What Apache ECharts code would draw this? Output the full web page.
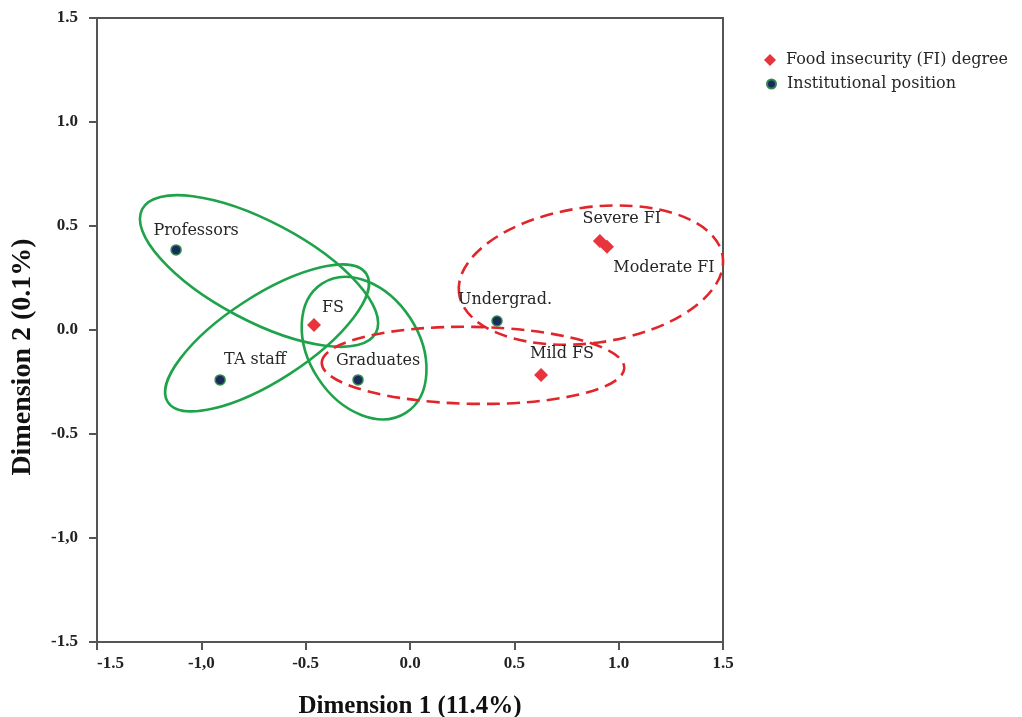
<!DOCTYPE html>
<html>
<head>
<meta charset="utf-8">
<script src="https://cdn.jsdelivr.net/npm/echarts@6/dist/echarts.min.js"></script>
<style>
html,body{margin:0;padding:0;background:#fff;}
#chart{width:1022px;height:717px;}
</style>
</head>
<body>
<div id="chart"></div>
<script>
// ---- data ----
const tickValues = [-1.5, -1.0, -0.5, 0.0, 0.5, 1.0, 1.5];
const xTickLabels = ['-1.5', '-1,0', '-0.5', '0.0', '0.5', '1.0', '1.5'];
const yTickLabels = ['-1.5', '-1,0', '-0.5', '0.0', '0.5', '1.0', '1.5'];

const fiNames = ['FS', 'Mild FS', 'Moderate FI', 'Severe FI'];
const fiX = [-0.46, 0.628, 0.944, 0.91];
const fiY = [0.024, -0.216, 0.40, 0.428];

const posNames = ['Professors', 'TA staff', 'Graduates', 'Undergrad.'];
const posX = [-1.121, -0.91, -0.249, 0.417];
const posY = [0.385, -0.24, -0.24, 0.043];

// ellipses: center x, center y, semi-major, semi-minor, angle (deg, data space)
const greenCx = [-0.7235, -0.685, -0.220];
const greenCy = [0.2837, -0.038, -0.087];
const greenA = [0.634, 0.567, 0.370];
const greenB = [0.238, 0.204, 0.264];
const greenAng = [-28, 33, -57];

const redCx = [0.867, 0.302];
const redCy = [0.264, -0.170];
const redA = [0.638, 0.725];
const redB = [0.326, 0.185];
const redAng = [8, -1];

// ---- styles ----
const labelOffsets = {
  'Professors': [20, -19], 'TA staff': [35, -20], 'Graduates': [20, -19], 'Undergrad.': [8, -21],
  'FS': [19, -17], 'Mild FS': [21, -21], 'Severe FI': [22, -22], 'Moderate FI': [57, 21]
};
const labelFont = 'DejaVu Serif';
const axisFont = 'Liberation Serif';

function pts(names, xs, ys) {
  return names.map((n, i) => ({
    name: n, value: [xs[i], ys[i]],
    label: { offset: labelOffsets[n] }
  }));
}
function ell(cx, cy, a, b, ang) {
  return cx.map((v, i) => [v, cy[i], a[i], b[i], ang[i]]);
}
function makeRender(stroke, dash) {
  return function (params, api) {
    const cx = api.value(0), cy = api.value(1), a = api.value(2), b = api.value(3);
    const t = api.value(4) * Math.PI / 180;
    const c = api.coord([cx, cy]);
    const pa = api.coord([cx + a * Math.cos(t), cy + a * Math.sin(t)]);
    const pb = api.coord([cx - b * Math.sin(t), cy + b * Math.cos(t)]);
    const rx = Math.hypot(pa[0] - c[0], pa[1] - c[1]);
    const ry = Math.hypot(pb[0] - c[0], pb[1] - c[1]);
    const rot = -Math.atan2(pa[1] - c[1], pa[0] - c[0]);
    return {
      type: 'ellipse', x: c[0], y: c[1], rotation: rot,
      shape: { cx: 0, cy: 0, rx: rx, ry: ry },
      style: { fill: null, stroke: stroke, lineWidth: 2.6, lineDash: dash }
    };
  };
}
function tickFmt(labels) {
  return v => labels[tickValues.findIndex(t => Math.abs(t - v) < 1e-6)];
}

const chart = echarts.init(document.getElementById('chart'), null, { renderer: 'canvas' });
const axisCommon = {
  type: 'value', min: -1.5, max: 1.5, interval: 0.5,
  axisLine: { show: true, onZero: false, lineStyle: { color: '#555', width: 2 } },
  axisTick: { show: true, length: 8, lineStyle: { color: '#555', width: 2 } },
  splitLine: { show: false }
};
const labelStyle = { show: true, position: 'inside', formatter: '{b}', fontFamily: labelFont, fontSize: 16, color: '#262626' };
chart.setOption({
  animation: false,
  backgroundColor: '#fff',
  grid: { left: 97, top: 18, right: 299, bottom: 75, containLabel: false, outerBoundsMode: 'none', show: true, borderColor: '#555', borderWidth: 2, backgroundColor: 'transparent' },
  legend: [
    {
      orient: 'vertical', left: 759, top: 47, itemWidth: 12, itemHeight: 12,
      textStyle: { fontFamily: labelFont, fontSize: 16, color: '#262626', padding: [0, 0, 0, 5] },
      data: [{ name: 'Food insecurity (FI) degree', icon: 'diamond' }]
    },
    {
      orient: 'vertical', left: 761, top: 71, itemWidth: 9, itemHeight: 9,
      textStyle: { fontFamily: labelFont, fontSize: 16, color: '#262626', padding: [0, 0, 0, 6] },
      data: [{ name: 'Institutional position', icon: 'circle' }]
    }
  ],
  xAxis: Object.assign({}, axisCommon, {
    name: 'Dimension 1 (11.4%)', nameLocation: 'middle', nameGap: 52,
    nameTextStyle: { fontFamily: axisFont, fontWeight: 'bold', fontSize: 25, color: '#111' },
    axisLabel: {
      margin: 13, fontFamily: axisFont, fontWeight: 'bold', fontSize: 17, color: '#222',
      alignMinLabel: 'left', formatter: tickFmt(xTickLabels)
    }
  }),
  yAxis: Object.assign({}, axisCommon, {
    name: 'Dimension 2 (0.1%)', nameLocation: 'middle', nameGap: 60,
    nameTextStyle: { fontFamily: axisFont, fontWeight: 'bold', fontSize: 28, color: '#111', padding: [0, 54, 0, 0] },
    axisLabel: {
      margin: 19, fontFamily: axisFont, fontWeight: 'bold', fontSize: 17, color: '#222',
      formatter: tickFmt(yTickLabels)
    }
  }),
  series: [
    { type: 'custom', name: 'greenEllipses', renderItem: makeRender('#1ea34b', null), data: ell(greenCx, greenCy, greenA, greenB, greenAng), z: 1, silent: true, clip: false },
    { type: 'custom', name: 'redEllipses', renderItem: makeRender('#e0262b', [13, 7]), data: ell(redCx, redCy, redA, redB, redAng), z: 1, silent: true, clip: false },
    {
      type: 'scatter', name: 'Food insecurity (FI) degree', symbol: 'diamond', symbolSize: 14,
      itemStyle: { color: '#e8353c', opacity: 1 }, z: 5,
      label: labelStyle,
      data: pts(fiNames, fiX, fiY)
    },
    {
      type: 'scatter', name: 'Institutional position', symbol: 'circle', symbolSize: 10,
      itemStyle: { color: '#1b2a5c', borderColor: '#2e8b4e', borderWidth: 1.5, opacity: 1 }, z: 5,
      label: labelStyle,
      data: pts(posNames, posX, posY)
    }
  ]
});
</script>
</body>
</html>
